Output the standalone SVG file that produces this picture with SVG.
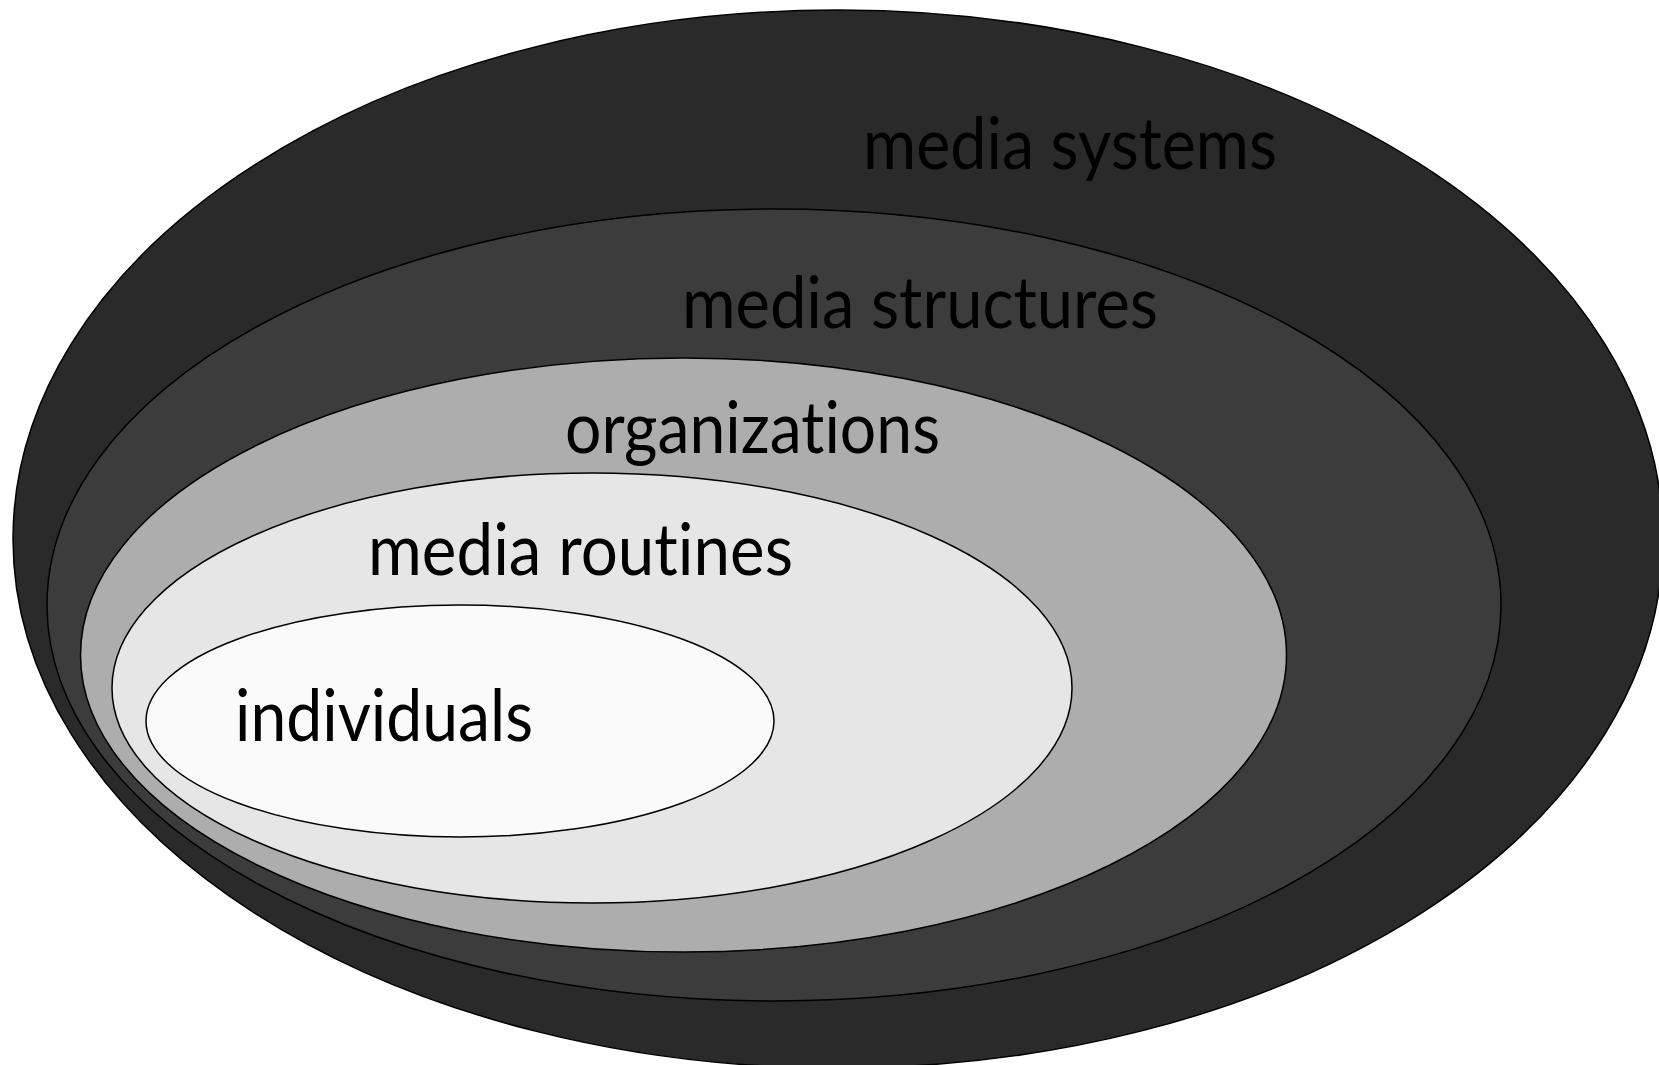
<svg xmlns="http://www.w3.org/2000/svg" width="1659" height="1065" viewBox="0 0 1659 1065">
  <style>
    .ring { stroke: #000; stroke-width: 1.5; }
    .lbl { font-family: Lato, "Liberation Sans", sans-serif; font-size: 72px; fill: #000; font-variant-ligatures: none; font-feature-settings: "liga" 0, "dlig" 0; }
  </style>
  <rect width="1659" height="1065" fill="#ffffff"/>
  <g id="media-systems">
    <ellipse class="ring" cx="838" cy="539" rx="825" ry="529" fill="#2a2a2a"/>
    <text class="lbl" x="863" y="169" textLength="414" lengthAdjust="spacingAndGlyphs">media systems</text>
  </g>
  <g id="media-structures">
    <ellipse class="ring" cx="774" cy="605" rx="727" ry="396" fill="#3c3c3c"/>
    <text class="lbl" x="682" y="328" textLength="476" lengthAdjust="spacingAndGlyphs">media structures</text>
  </g>
  <g id="organizations">
    <ellipse class="ring" cx="683.5" cy="655" rx="603" ry="297" fill="#adadad"/>
    <text class="lbl" x="565" y="453" textLength="375" lengthAdjust="spacingAndGlyphs">organizations</text>
  </g>
  <g id="media-routines">
    <ellipse class="ring" cx="592" cy="688" rx="480" ry="215" fill="#e6e6e6"/>
    <text class="lbl" x="368" y="575" textLength="425" lengthAdjust="spacingAndGlyphs">media routines</text>
  </g>
  <g id="individuals">
    <ellipse class="ring" cx="460" cy="721" rx="314" ry="116" fill="#fafafa"/>
    <text class="lbl" x="235" y="741" textLength="298" lengthAdjust="spacingAndGlyphs">individuals</text>
  </g>
  <g id="connectors"/>
</svg>
